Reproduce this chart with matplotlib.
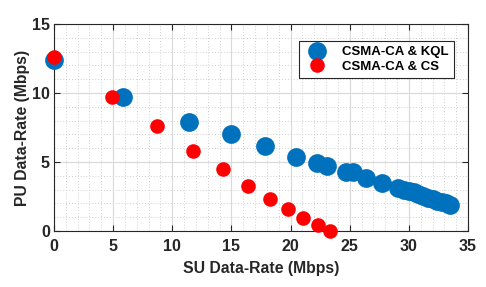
import matplotlib
matplotlib.use("Agg")
import matplotlib.pyplot as plt
from matplotlib.ticker import MultipleLocator

kql_x = [0.0, 5.86, 11.44, 14.96, 17.84, 20.5, 22.26, 23.1, 24.68, 25.25, 26.37, 27.7,
         29.1, 29.6, 30.0, 30.4, 30.8, 31.2, 31.6, 32.0, 32.4, 32.8, 33.15, 33.47]
kql_y = [12.4, 9.73, 7.92, 7.0, 6.18, 5.38, 4.9, 4.73, 4.3, 4.25, 3.82, 3.5,
         3.09, 2.98, 2.9, 2.8, 2.68, 2.55, 2.42, 2.3, 2.2, 2.1, 2.0, 1.9]
cs_x = [0.0, 4.87, 8.68, 11.78, 14.26, 16.43, 18.26, 19.75, 21.08, 22.35, 23.33]
cs_y = [12.6, 9.73, 7.6, 5.82, 4.47, 3.28, 2.34, 1.59, 0.97, 0.41, 0.0]

plt.rcParams['font.family'] = ['Liberation Sans', 'DejaVu Sans']
plt.rcParams['font.weight'] = 'bold'

fig = plt.figure(figsize=(4.86, 2.87), dpi=100)
ax = fig.add_axes([0.111, 0.195, 0.852, 0.721])

ax.plot(kql_x, kql_y, 'o', color='#0072BD', markersize=13.5, markeredgewidth=0,
        label='CSMA-CA & KQL', zorder=3, clip_on=False)
ax.plot(cs_x, cs_y, 'o', color='#FF0000', markersize=10.5, markeredgewidth=0,
        label='CSMA-CA & CS', zorder=4, clip_on=False)

ax.set_xlim(0, 35)
ax.set_ylim(0, 15)
ax.xaxis.set_major_locator(MultipleLocator(5))
ax.yaxis.set_major_locator(MultipleLocator(5))
ax.xaxis.set_minor_locator(MultipleLocator(1))
ax.yaxis.set_minor_locator(MultipleLocator(1))
ax.grid(True, which='major', color='#d9d9d9', linewidth=0.8, linestyle='-')
ax.grid(True, which='minor', color='#cfcfcf', linewidth=0.7, linestyle=(0, (1, 2)))
ax.set_axisbelow(True)
ax.tick_params(which='both', direction='in', top=True, right=True, labelsize=11.5,
               color='#262626')
ax.tick_params(axis='x', which='major', pad=6)
ax.tick_params(axis='y', which='major', pad=3)
ax.tick_params(which='minor', length=0)
ax.tick_params(which='major', length=4)
for s in ax.spines.values():
    s.set_color('#262626')
    s.set_linewidth(0.8)
for lab in ax.get_xticklabels() + ax.get_yticklabels():
    lab.set_fontweight('bold')
    lab.set_color('#262626')

ax.set_xlabel('SU Data-Rate (Mbps)', fontsize=11.3, fontweight='bold', color='#262626', labelpad=5)
ax.set_ylabel('PU Data-Rate (Mbps)', fontsize=11.3, fontweight='bold', color='#262626')
ax.yaxis.set_label_coords(-0.058, 0.5)

leg = ax.legend(loc='upper right', bbox_to_anchor=(0.965, 0.92), fontsize=9.5,
                frameon=True, fancybox=False, edgecolor='#262626', framealpha=1,
                borderpad=0.4, handletextpad=1.0, labelspacing=0.2, handlelength=1.8,
                borderaxespad=0)
leg.get_frame().set_linewidth(0.8)
for t in leg.get_texts():
    t.set_fontweight('bold')

fig.savefig('out.png', dpi=100)
